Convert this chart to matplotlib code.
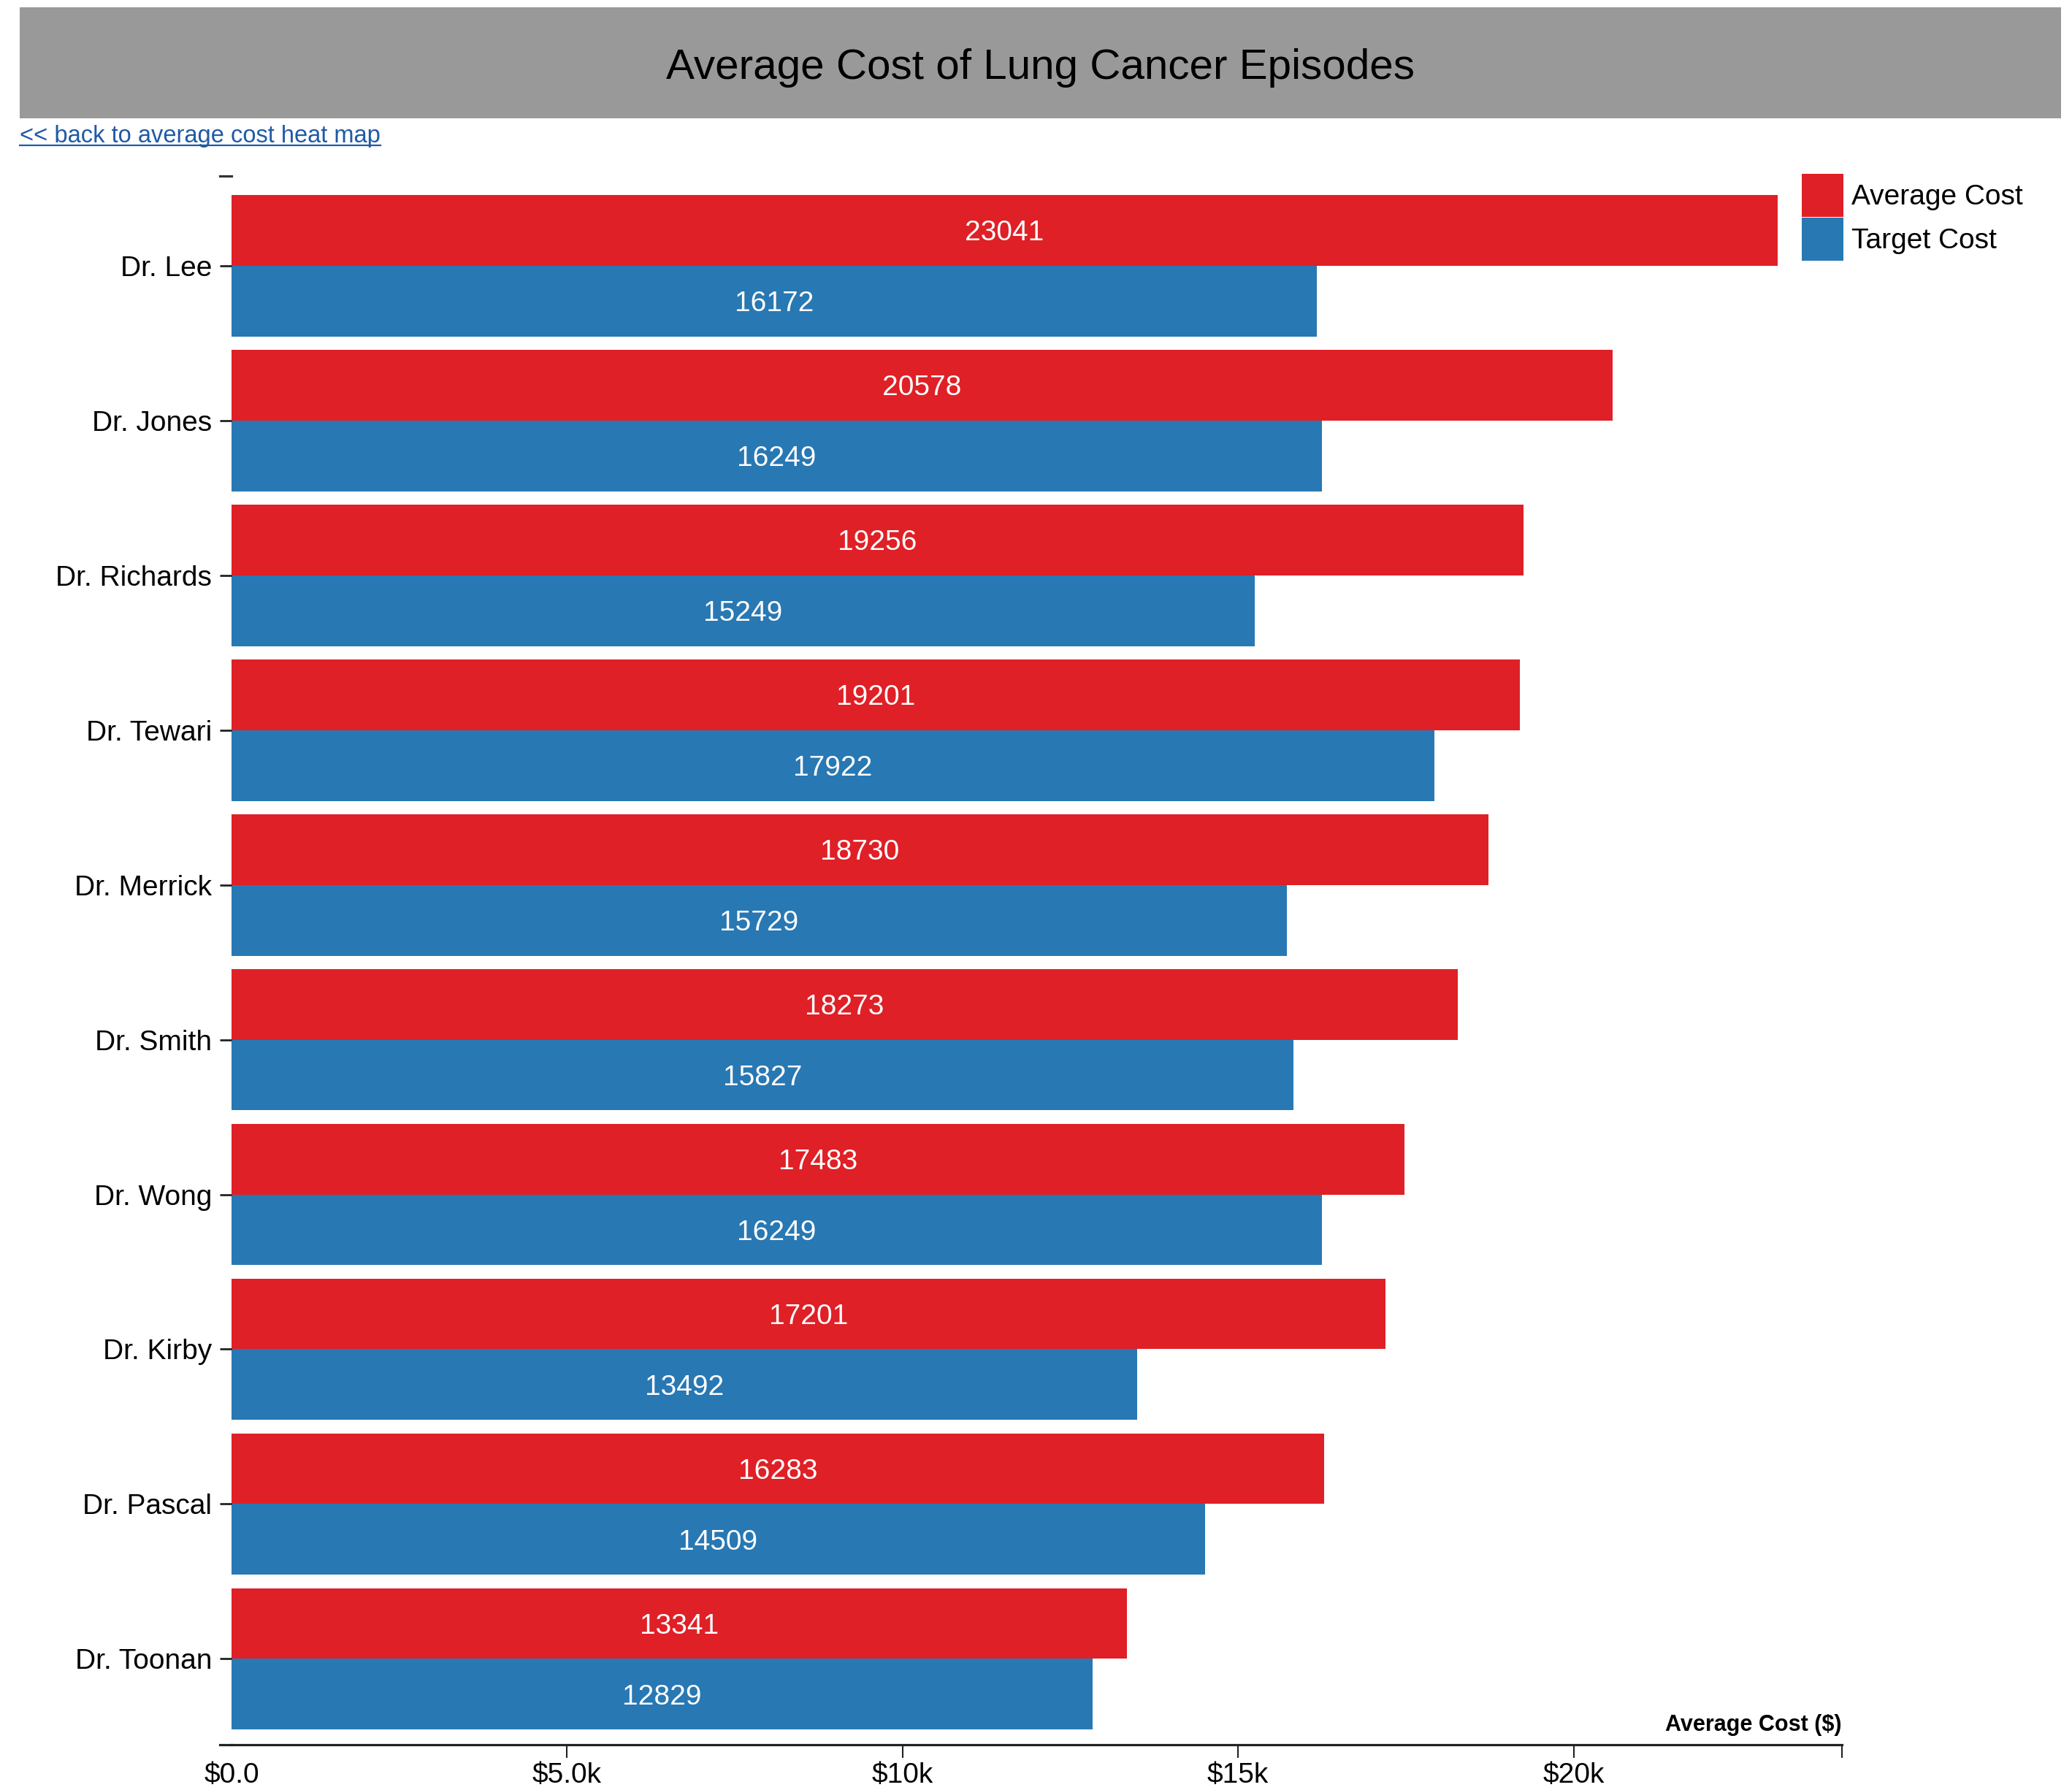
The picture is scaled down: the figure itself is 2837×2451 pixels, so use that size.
import numpy as np
import matplotlib
matplotlib.use("Agg")
import matplotlib.pyplot as plt
from matplotlib.patches import Rectangle
from matplotlib.lines import Line2D

plt.rcParams['font.family'] = ['Liberation Sans', 'DejaVu Sans']

# data
doctors = ["Dr. Lee", "Dr. Jones", "Dr. Richards", "Dr. Tewari", "Dr. Merrick",
           "Dr. Smith", "Dr. Wong", "Dr. Kirby", "Dr. Pascal", "Dr. Toonan"]
avg_cost = [23041, 20578, 19256, 19201, 18730, 18273, 17483, 17201, 16283, 13341]
target_cost = [16172, 16249, 15249, 17922, 15729, 15827, 16249, 13492, 14509, 12829]
xtick_vals = [0, 5000, 10000, 15000, 20000]
xtick_labels = ["$0.0", "$5.0k", "$10k", "$15k", "$20k"]
x_max = 24000

RED = '#df2026'
BLUE = '#2878b3'
W, H = 2837, 2451

fig = plt.figure(figsize=(W / 100, H / 100), dpi=100)

# grey header band + title
fig.patches.append(Rectangle((27 / W, 1 - 162 / H), (2822 - 27) / W, 152 / H,
                             transform=fig.transFigure, facecolor='#999999',
                             edgecolor='none', zorder=0))
fig.text((27 + 2822) / 2 / W, 1 - 108 / H, "Average Cost of Lung Cancer Episodes",
         ha='center', va='baseline', fontsize=42, color='black')

# link text, underlined
link = fig.text(27 / W, 1 - 195 / H, "<< back to average cost heat map",
                ha='left', va='baseline', fontsize=23.5, color='#1f5aa6')
fig.canvas.draw()
bb = link.get_window_extent(fig.canvas.get_renderer())
fig.add_artist(Line2D([bb.x0 / W, bb.x1 / W], [1 - 199 / H, 1 - 199 / H],
                      transform=fig.transFigure, color='#1f5aa6', lw=1.6))

ax = fig.add_axes([317 / W, 62 / H, (2522 - 317) / W, (2389 - 241) / H])

pos = np.arange(len(doctors))
h = 0.457
ax.barh(pos - h / 2, avg_cost, height=h, color=RED, label='Average Cost')
ax.barh(pos + h / 2, target_cost, height=h, color=BLUE, label='Target Cost')

for p, a, t in zip(pos, avg_cost, target_cost):
    ax.annotate(str(a), (a / 2, p - h / 2), xytext=(0, -10), textcoords='offset points',
                ha='center', va='baseline', color='white', fontsize=28)
    ax.annotate(str(t), (t / 2, p + h / 2), xytext=(0, -10), textcoords='offset points',
                ha='center', va='baseline', color='white', fontsize=28)

ax.set_xlim(0, x_max)
ax.set_ylim(9.555, -0.58)

for s in ['top', 'right', 'left']:
    ax.spines[s].set_visible(False)
ax.spines['bottom'].set_linewidth(2.3)
ax.spines['bottom'].set_color('#222222')

ax.set_yticks(pos)
ax.set_yticklabels(doctors, fontsize=28, color='black')
ax.tick_params(axis='y', length=11.5, width=2, pad=8, color='#222222')

ax.set_xticks(xtick_vals)
ax.set_xticklabels(xtick_labels, fontsize=28, color='black')
ax.set_xticks([x_max], minor=True)
ax.tick_params(axis='x', which='both', length=13, width=1.5, pad=4, color='#222222')
ax.xaxis.get_major_ticks()[0].tick1line.set_visible(False)

# outer ticks of the y axis domain (top and bottom)
yt = ax.get_yaxis_transform()
tick_len = 16 / (2522 - 317)
ax.plot([-tick_len, 0], [-0.58, -0.58], transform=yt, color='#333333', lw=2.3, clip_on=False)
ax.plot([-tick_len, 0], [9.555, 9.555], transform=yt, color='#222222', lw=2.3, clip_on=False)

fig.text(2522 / W, 1 - 2370 / H, "Average Cost ($)", ha='right', va='baseline',
         fontsize=22, fontweight='bold', color='black')

ax.legend(loc='upper left', bbox_to_anchor=(2467 / W, 1 - 238 / H),
          bbox_transform=fig.transFigure, frameon=False, fontsize=28,
          handlelength=1.47, handleheight=1.96, handletextpad=0.28,
          labelspacing=0.03, borderpad=0, borderaxespad=0)

fig.savefig("out.png", dpi=100)
